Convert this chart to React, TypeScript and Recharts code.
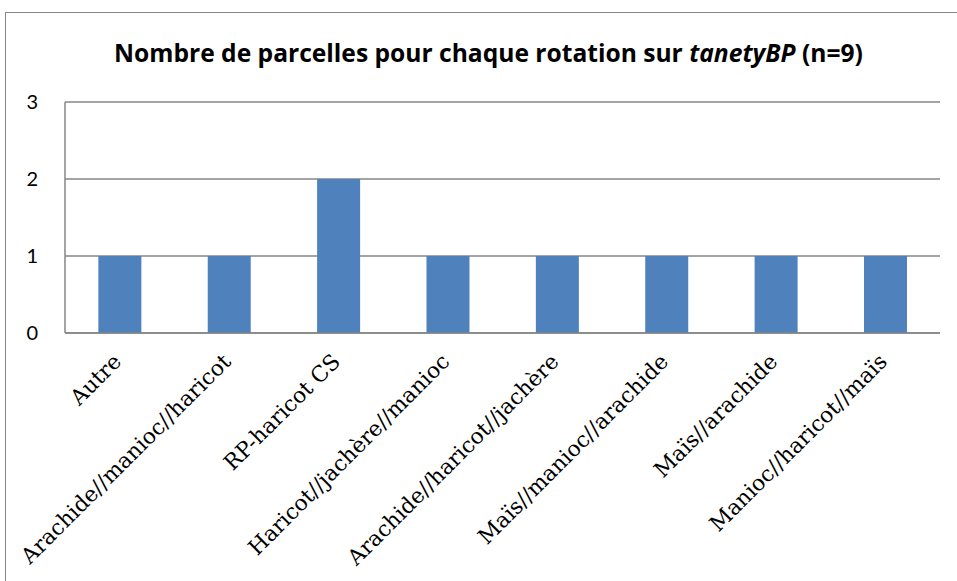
import { BarChart, Bar, XAxis, YAxis, CartesianGrid } from 'recharts'

const categories = [
  'Autre',
  'Arachide//manioc//haricot',
  'RP-haricot CS',
  'Haricot//jachère//manioc',
  'Arachide//haricot//jachère',
  'Maïs//manioc//arachide',
  'Maïs//arachide',
  'Manioc//haricot//maïs',
]
const counts = [1, 1, 2, 1, 1, 1, 1, 1]
const yTicks = [0, 1, 2, 3]

const data = categories.map((name, i) => ({ name, value: counts[i] }))

const GRID = '#868686'

// rotated category label, anchored at its end just under the axis
const SlantTick = (props: any) => {
  const { x, y, payload } = props
  return (
    <g transform={`translate(${x + 3},${y + 28})`}>
      <text
        textAnchor="end"
        transform="rotate(-45)"
        fontFamily="'DejaVu Serif', serif"
        fontSize={21.7}
        fill="#000"
      >
        {payload.value}
      </text>
    </g>
  )
}

export default function App() {
  return (
    <div
      style={{
        position: 'absolute',
        left: 0,
        top: 0,
        width: 957,
        height: 581,
        overflow: 'hidden',
        background: '#fff',
      }}
    >
      <div
        style={{
          position: 'absolute',
          left: 5,
          top: 12,
          width: 1100,
          height: 800,
          border: '1.5px solid #878787',
        }}
      />
      <div
        style={{
          position: 'absolute',
          left: 0,
          width: 977,
          top: 37,
          textAlign: 'center',
          fontFamily: "'Open Sans', sans-serif",
          fontWeight: 'bold',
          fontSize: 24.6,
          lineHeight: '32px',
          color: '#000',
          whiteSpace: 'nowrap',
        }}
      >
        Nombre de parcelles pour chaque rotation sur <i>tanetyBP</i> (n=9)
      </div>
      <BarChart
        width={957}
        height={581}
        data={data}
        margin={{ top: 102, right: 17, bottom: 48, left: 0 }}
        barCategoryGap="30.5%"
        style={{ position: 'absolute', left: 0, top: 0 }}
      >
        <CartesianGrid horizontal vertical={false} stroke={GRID} strokeWidth={1.5} />
        <XAxis
          dataKey="name"
          height={200}
          interval={0}
          axisLine={{ stroke: GRID, strokeWidth: 1.5 }}
          tickLine={false}
          tickSize={0}
          tick={<SlantTick />}
        />
        <YAxis
          width={65}
          domain={[0, 3]}
          ticks={yTicks}
          axisLine={{ stroke: GRID, strokeWidth: 1.5 }}
          tickLine={false}
          tickSize={0}
          tickMargin={27}
          tick={{ fontFamily: 'Lato, sans-serif', fontSize: 20, fill: '#000' }}
        />
        <Bar dataKey="value" fill="#4F81BD" isAnimationActive={false} />
      </BarChart>
    </div>
  )
}
